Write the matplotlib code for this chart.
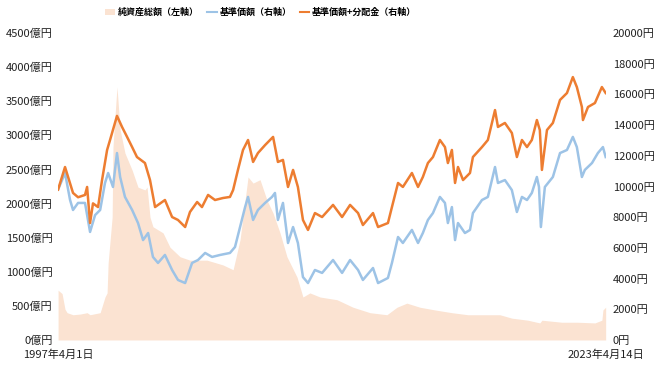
import matplotlib
matplotlib.use("Agg")
import matplotlib.pyplot as plt
from matplotlib.patches import Patch
from matplotlib.lines import Line2D

plt.rcParams['font.family'] = ['Noto Sans CJK JP', 'DejaVu Sans']

# 純資産総額（億円, 左軸）
nav_years = [1997.25, 1997.44, 1997.58, 1997.68, 1997.96, 1998.30, 1998.63, 1998.77,
             1999.25, 1999.48, 1999.58, 1999.63, 1999.82, 1999.86, 1999.96, 2000.05,
             2000.20, 2000.43, 2000.77, 2001.05, 2001.38, 2001.48, 2001.62, 2001.76,
             2002.24, 2002.57, 2003.05, 2003.52, 2004.33, 2005.09, 2005.57, 2005.90,
             2006.28, 2006.52, 2006.85, 2007.18, 2007.47, 2007.80, 2008.13, 2008.61,
             2008.89, 2009.22, 2009.70, 2010.51, 2011.27, 2012.08, 2012.88, 2013.36,
             2013.83, 2014.45, 2015.17, 2015.97, 2016.73, 2017.54, 2018.25, 2018.82,
             2019.58, 2020.15, 2020.25, 2021.20, 2021.96, 2022.77, 2023.10, 2023.15,
             2023.28]
nav_values = [730, 680, 450, 400, 370, 380, 400, 370,
              400, 630, 690, 1130, 1800, 2830, 3300, 3710,
              3080, 2740, 2490, 2240, 2200, 2240, 1800, 1660,
              1570, 1360, 1220, 1170, 1170, 1100, 1030, 1470,
              2390, 2300, 2350, 2050, 1860, 1570, 1220, 920,
              630, 690, 630, 590, 480, 400, 370, 480,
              540, 480, 440, 400, 370, 370, 370, 320,
              290, 250, 290, 260, 260, 250, 290, 440,
              480]

# 基準価額（円, 右軸）
base_years = [1997.25, 1997.58, 1997.82, 1997.96, 1998.20, 1998.53, 1998.77, 1999.01,
              1999.25, 1999.48, 1999.63, 1999.86, 2000.05, 2000.20, 2000.43, 2000.77,
              2001.05, 2001.29, 2001.53, 2001.76, 2002.00, 2002.33, 2002.67, 2002.95,
              2003.29, 2003.62, 2003.90, 2004.24, 2004.57, 2004.95, 2005.42, 2005.66,
              2005.90, 2006.14, 2006.28, 2006.52, 2006.75, 2007.09, 2007.42, 2007.56,
              2007.70, 2007.94, 2008.18, 2008.42, 2008.65, 2008.89, 2009.13, 2009.46,
              2009.80, 2010.32, 2010.75, 2011.13, 2011.51, 2011.74, 2012.22, 2012.46,
              2012.93, 2013.12, 2013.41, 2013.64, 2014.07, 2014.36, 2014.59, 2014.83,
              2015.07, 2015.40, 2015.64, 2015.78, 2015.97, 2016.12, 2016.26, 2016.59,
              2016.83, 2016.97, 2017.40, 2017.68, 2018.02, 2018.16, 2018.49, 2018.82,
              2019.06, 2019.30, 2019.54, 2019.77, 2020.01, 2020.11, 2020.20, 2020.39,
              2020.77, 2021.11, 2021.44, 2021.72, 2021.91, 2022.15, 2022.29, 2022.63,
              2022.91, 2023.15, 2023.28]
base_values = [9800, 10880, 9120, 8470, 8930, 8930, 7040, 8140,
               8470, 10230, 10880, 9970, 12180, 10620, 9320, 8470,
               7620, 6510, 6970, 5410, 5020, 5540, 4560, 3910,
               3710, 5020, 5210, 5670, 5410, 5540, 5670, 6060,
               7360, 8660, 9320, 7820, 8470, 8930, 9320, 9580,
               7820, 8930, 6320, 7360, 6320, 4100, 3710, 4560,
               4370, 5210, 4370, 5210, 4560, 3910, 4690, 3710,
               4040, 5020, 6710, 6320, 7170, 6320, 6970, 7820,
               8270, 9320, 8930, 7620, 8660, 6510, 7620, 6970,
               7170, 8270, 9120, 9320, 11270, 10230, 10420, 9770,
               8340, 9320, 9120, 9580, 10620, 9970, 7360, 9970,
               10620, 12180, 12380, 13230, 12570, 10620, 11080, 11530,
               12180, 12570, 11920]

# 基準価額+分配金（円, 右軸）
total_years = [1997.25, 1997.58, 1997.96, 1998.20, 1998.53, 1998.63, 1998.77, 1998.91,
               1999.15, 1999.34, 1999.58, 1999.72, 2000.05, 2000.29, 2000.53, 2000.77,
               2001.00, 2001.38, 2001.62, 2001.86, 2002.33, 2002.67, 2002.95, 2003.29,
               2003.52, 2003.86, 2004.09, 2004.38, 2004.71, 2005.09, 2005.42, 2005.57,
               2005.80, 2006.04, 2006.28, 2006.52, 2006.75, 2007.09, 2007.47, 2007.70,
               2007.94, 2008.18, 2008.42, 2008.65, 2008.89, 2009.13, 2009.46, 2009.80,
               2010.32, 2010.75, 2011.13, 2011.51, 2011.74, 2012.22, 2012.46, 2012.93,
               2013.12, 2013.41, 2013.64, 2014.07, 2014.36, 2014.59, 2014.83, 2015.07,
               2015.40, 2015.64, 2015.78, 2015.97, 2016.12, 2016.26, 2016.50, 2016.83,
               2016.97, 2017.40, 2017.68, 2018.02, 2018.16, 2018.49, 2018.82, 2019.06,
               2019.30, 2019.54, 2019.77, 2020.01, 2020.15, 2020.25, 2020.49, 2020.77,
               2021.11, 2021.44, 2021.72, 2021.91, 2022.15, 2022.20, 2022.44, 2022.77,
               2023.10, 2023.28]
total_values = [9800, 11270, 9580, 9300, 9450, 9970, 7620, 8900,
                8660, 10420, 12380, 13030, 14600, 13880, 13230, 12570,
                11920, 11530, 10420, 8660, 9120, 8010, 7820, 7360,
                8340, 8990, 8660, 9450, 9120, 9250, 9320, 9770,
                11080, 12380, 13030, 11600, 12180, 12700, 13230, 11600,
                11730, 9970, 11080, 9970, 7820, 7170, 8270, 8010,
                8800, 8010, 8800, 8270, 7490, 8270, 7360, 7620,
                8660, 10230, 9970, 10880, 9970, 10620, 11530, 11920,
                13030, 12570, 11530, 12380, 10230, 11270, 10420, 10880,
                11920, 12570, 13030, 14980, 13880, 14140, 13490, 11920,
                13030, 12570, 13030, 14330, 13680, 11080, 13680, 14140,
                15640, 16090, 17130, 16480, 15180, 14330, 15180, 15440,
                16480, 16090]

left_ticks = list(range(0, 4501, 500))
right_ticks = list(range(0, 20001, 2000))
start_label = "1997年4月1日"
end_label = "2023年4月14日"
x_start, x_end = 1997.25, 2023.29

area_color = "#FBE3D2"
blue = "#9DC3E6"
orange = "#ED7D31"

fig = plt.figure(figsize=(6.6, 3.71), dpi=100)
ax = fig.add_axes([0.088, 0.0836, 0.83, 0.8274])
ax2 = ax.twinx()

ax.fill_between(nav_years, nav_values, 0, color=area_color, lw=0)
ax2.plot(base_years, base_values, color=blue, lw=1.8)
ax2.plot(total_years, total_values, color=orange, lw=1.8)

ax.set_xlim(x_start, x_end)
ax.set_ylim(0, 4500)
ax2.set_ylim(0, 20000)
ax.set_yticks(left_ticks)
ax.set_yticklabels([f"{v}億円" for v in left_ticks])
ax2.set_yticks(right_ticks)
ax2.set_yticklabels([f"{v}円" for v in right_ticks])
ax.set_xticks([x_start, x_end])
ax.set_xticklabels([start_label, end_label])

for a in (ax, ax2):
    for s in a.spines.values():
        s.set_visible(False)
    a.tick_params(length=0, labelsize=8, colors="#222222")
ax.tick_params(axis='y', pad=4)
ax2.tick_params(axis='y', pad=5)
ax.tick_params(axis='x', pad=7)

handles = [Patch(facecolor=area_color, edgecolor='none'),
           Line2D([0], [0], color=blue, lw=1.5),
           Line2D([0], [0], color=orange, lw=1.5)]
labels = ["純資産総額（左軸）", "基準価額（右軸）", "基準価額+分配金（右軸）"]
fig.legend(handles, labels, loc='center', bbox_to_anchor=(0.395, 0.967), ncol=3,
           frameon=False, handlelength=1.1, handletextpad=0.3,
           columnspacing=0.9, prop={'weight': 'bold', 'size': 6.5})

fig.savefig("out.png", dpi=100)
